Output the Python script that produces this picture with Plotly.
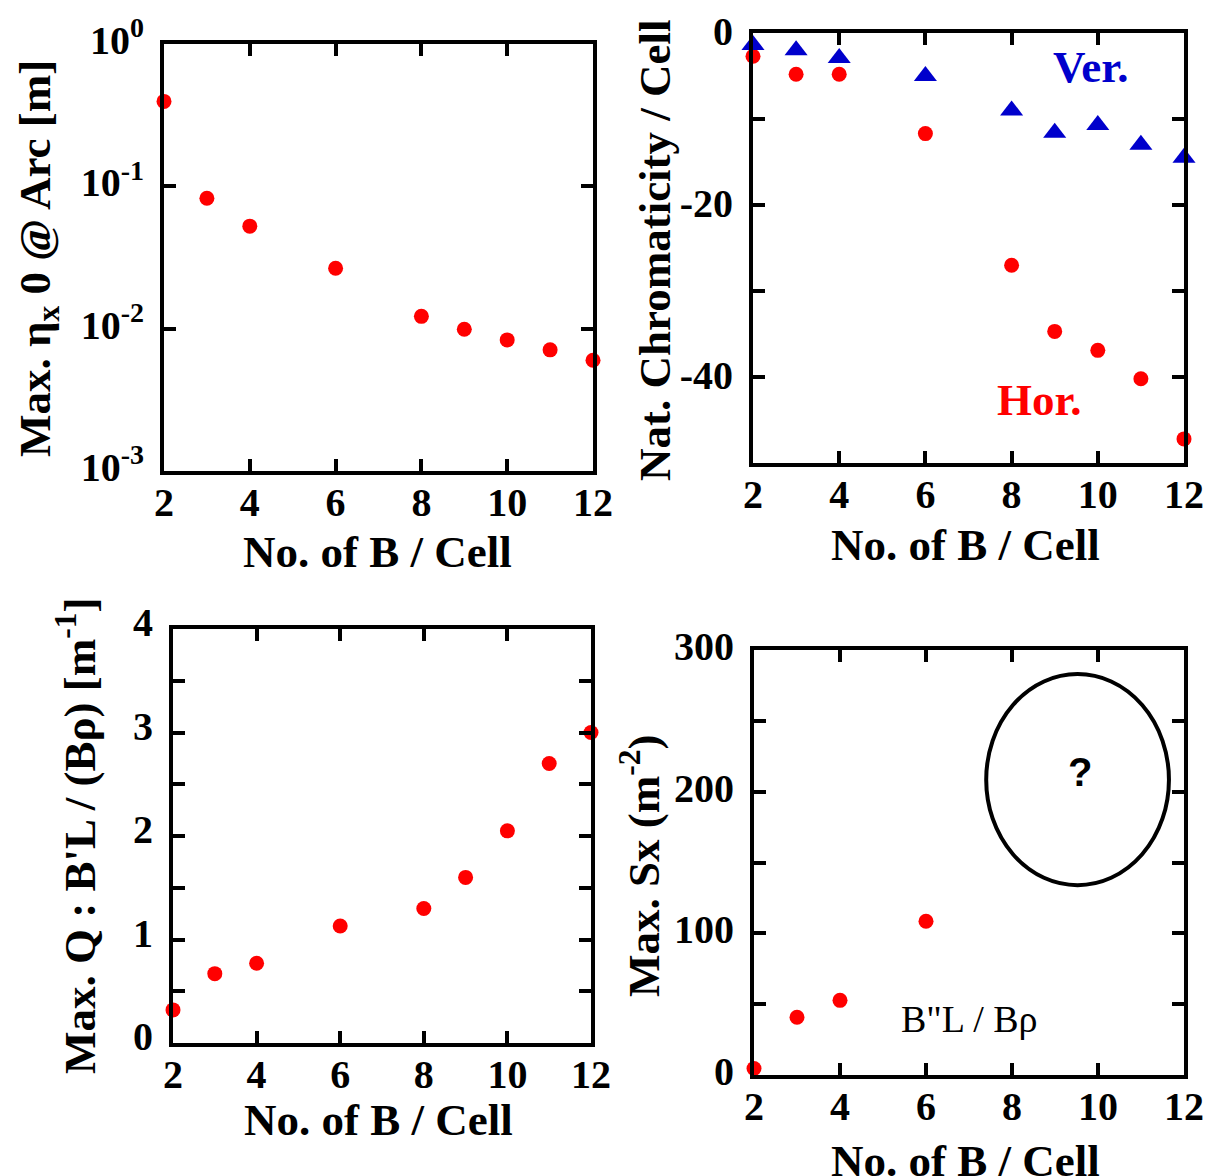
import plotly.graph_objects as go

# Number of bending magnets per cell
n_b = [2, 3, 4, 6, 8, 9, 10, 11, 12]

# Max. horizontal dispersion in the arc [m]
eta_max = [0.395, 0.0825, 0.0525, 0.0266, 0.0122, 0.0099, 0.00834, 0.0071, 0.0060]

# Natural chromaticity per cell
chrom_ver = [-1.4, -2.0, -2.9, -5.0, -9.0, -11.6, -10.7, -13.0, -14.5]
chrom_hor = [-2.7, -4.8, -4.8, -11.7, -27.0, -34.7, -36.9, -40.2, -47.2]

# Max. quadrupole strength B'L/(B rho) [1/m]
quad_max = [0.32, 0.67, 0.77, 1.13, 1.30, 1.60, 2.05, 2.70, 3.00]

# Max. sextupole strength (only computed up to 6 B/cell)
n_b_sx = [2, 3, 4, 6]
sx_max = [4.6, 40.8, 52.7, 108.5]

x_ticks = [2, 4, 6, 8, 10, 12]
log_tickvals = [0.001, 0.01, 0.1, 1]
log_ticktext = ["10<sup>-3</sup>", "10<sup>-2</sup>", "10<sup>-1</sup>", "10<sup>0</sup>"]
chrom_tickvals = [0, -20, -40]
quad_tickvals = [0, 1, 2, 3, 4]
sx_tickvals = [0, 100, 200, 300]

W, H = 1207, 1176
SERIF = "Liberation Serif, Times New Roman, serif"
RED = "#ff0000"
BLUE = "#0000cc"


def px_x(p):
    return p / W


def px_y(p):
    return 1 - p / H


fig = go.Figure()

dot = dict(color=RED, size=15)
tri = dict(color=BLUE, size=20, symbol="triangle-up")

fig.add_trace(go.Scatter(x=n_b, y=eta_max, mode="markers", marker=dot,
                         xaxis="x", yaxis="y", cliponaxis=False))
fig.add_trace(go.Scatter(x=n_b, y=chrom_hor, mode="markers", marker=dot,
                         xaxis="x2", yaxis="y2", cliponaxis=False))
fig.add_trace(go.Scatter(x=n_b, y=chrom_ver, mode="markers", marker=tri,
                         xaxis="x2", yaxis="y2", cliponaxis=False))
fig.add_trace(go.Scatter(x=n_b, y=quad_max, mode="markers", marker=dot,
                         xaxis="x3", yaxis="y3", cliponaxis=False))
fig.add_trace(go.Scatter(x=n_b_sx, y=sx_max, mode="markers", marker=dot,
                         xaxis="x4", yaxis="y4", cliponaxis=False))

tick_font = dict(family=SERIF, size=40, color="black", weight="bold")

axis_common = dict(
    showline=True, linewidth=4, linecolor="black", mirror="ticks",
    ticks="inside", ticklen=12, tickwidth=4, tickcolor="black",
    showgrid=False, zeroline=False, tickfont=tick_font, automargin=False,
)


def minor(step):
    return dict(ticks="inside", ticklen=12, tickwidth=4, tickcolor="black",
                dtick=step, showgrid=False)


def xaxis(domain, anchor):
    return dict(axis_common, domain=domain, anchor=anchor, range=[2, 12],
                tickvals=x_ticks, ticktext=[str(v) for v in x_ticks],
                ticklabelstandoff=-7)


def yaxis(domain, anchor, shift, **kw):
    return dict(axis_common, domain=domain, anchor=anchor,
                ticklabelstandoff=8, ticklabelshift=shift, **kw)


fig.update_layout(
    template="none",
    width=W, height=H,
    margin=dict(l=0, r=0, t=0, b=0, autoexpand=False),
    paper_bgcolor="white", plot_bgcolor="white",
    showlegend=False,
    xaxis=xaxis([px_x(164), px_x(593)], "y"),
    yaxis=yaxis([px_y(471), px_y(44)], "x", -4, type="log", range=[-3, 0],
                tickvals=log_tickvals, ticktext=log_ticktext),
    xaxis2=xaxis([px_x(753), px_x(1184)], "y2"),
    yaxis2=yaxis([px_y(463), px_y(33)], "x2", -2, range=[-50, 0],
                 tickvals=chrom_tickvals, ticktext=[str(v) for v in chrom_tickvals],
                 minor=minor(10)),
    xaxis3=xaxis([px_x(173), px_x(591)], "y3"),
    yaxis3=yaxis([px_y(1043), px_y(629)], "x3", -7, range=[0, 4],
                 tickvals=quad_tickvals, ticktext=[str(v) for v in quad_tickvals],
                 minor=minor(0.5)),
    xaxis4=xaxis([px_x(754), px_x(1184)], "y4"),
    yaxis4=yaxis([px_y(1075), px_y(650)], "x4", -4, range=[0, 300],
                 tickvals=sx_tickvals, ticktext=[str(v) for v in sx_tickvals],
                 minor=minor(50)),
)

title_font = dict(family=SERIF, size=45, color="black", weight="bold")


def paper_text(text, x, y, angle=0, font=title_font):
    fig.add_annotation(text=text, x=px_x(x), y=px_y(y), xref="paper", yref="paper",
                       showarrow=False, textangle=angle, font=font,
                       xanchor="center", yanchor="middle")


# axis titles
x_title = "No. of B / Cell"
paper_text(x_title, 377, 552)
paper_text(x_title, 966, 545)
paper_text(x_title, 378, 1120)
paper_text(x_title, 966, 1161)
paper_text("Max. η<sub>x</sub> 0 @ Arc [m]", 38, 259, -90)
paper_text("Nat. Chromaticity / Cell", 655, 250, -90)
paper_text("Max. Q : B'L / (Bρ) [m<sup>-1</sup>]", 76, 836, -90)
paper_text("Max. Sx (m<sup>-2</sup>)", 640, 866, -90)

# series labels in the chromaticity panel
fig.add_annotation(text="Ver.", x=9.84, y=-3.95, xref="x2", yref="y2", showarrow=False,
                   font=dict(family=SERIF, size=45, color=BLUE, weight="bold"))
fig.add_annotation(text="Hor.", x=8.65, y=-42.7, xref="x2", yref="y2", showarrow=False,
                   font=dict(family=SERIF, size=45, color=RED, weight="bold"))

# open question for larger B/cell in the sextupole panel
fig.add_shape(type="circle", xref="x4", yref="y4", x0=7.40, x1=11.65, y0=134, y1=283,
              line=dict(color="black", width=4))
fig.add_annotation(text="?", x=9.58, y=214, xref="x4", yref="y4", showarrow=False,
                   font=dict(family="Liberation Sans", size=40, color="black", weight="bold"))
fig.add_annotation(text="B\"L / Bρ", x=7.02, y=39.5, xref="x4", yref="y4", showarrow=False,
                   font=dict(family=SERIF, size=38, color="black"))

fig.write_html("out.html")
